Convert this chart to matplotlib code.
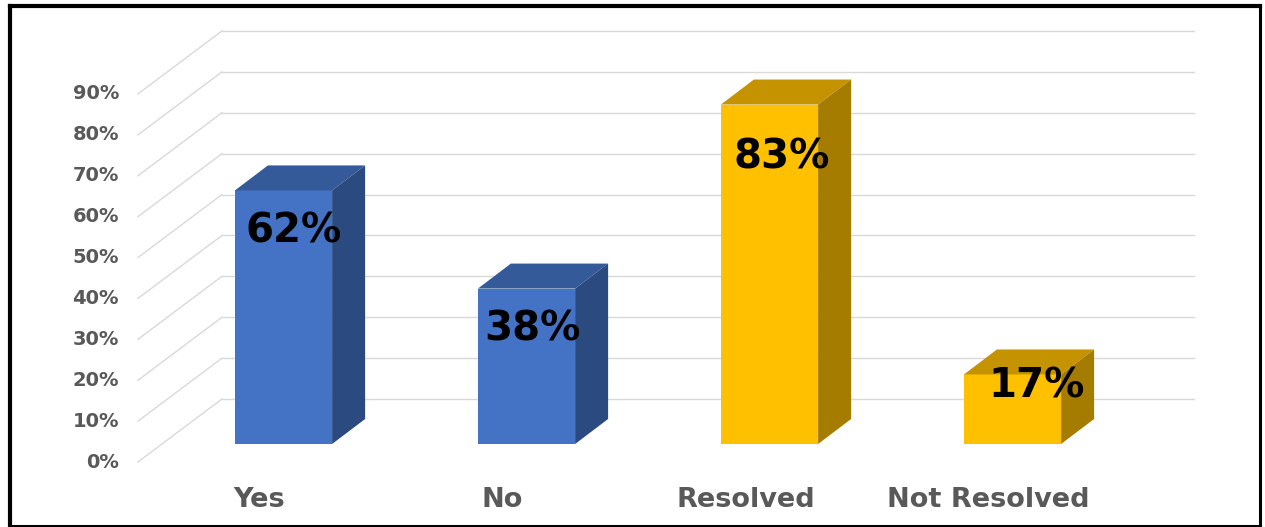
import matplotlib
matplotlib.use("Agg")
import matplotlib.pyplot as plt
from matplotlib.patches import Polygon, Rectangle

# data
categories = ["Yes", "No", "Resolved", "Not Resolved"]
values = [62, 38, 83, 17]
labels = ["62%", "38%", "83%", "17%"]
ticks = [0, 10, 20, 30, 40, 50, 60, 70, 80, 90]

# styling
front_cols = ["#4472C4", "#4472C4", "#FFC000", "#FFC000"]
top_cols = ["#345A9A", "#345A9A", "#C59300", "#C59300"]
side_cols = ["#2B4A80", "#2B4A80", "#A57C00", "#A57C00"]
lab_dx_px = [10, 6, 12, 24]
lab_drop = [10, 10, 13, 3]

PX_X = 243.0   # px per category
PX_Y = 4.09    # px per percent
X0, Y0 = 283.5, 444.0   # pixel of first bar centre / zero on bar plane

def dx(px):
    return px / PX_X

def dy(px):
    return px / PX_Y

fig = plt.figure(figsize=(12.65, 5.27), dpi=100)
L, R, T, B = 10, 1260, 6, 526
ax = fig.add_axes([L / 1265, 1 - B / 527, (R - L) / 1265, (B - T) / 527])
ax.set_xlim((L - X0) / PX_X, (R - X0) / PX_X)
ax.set_ylim((Y0 - B) / PX_Y, (Y0 - T) / PX_Y)
ax.set_xticks([])
ax.set_yticks([])
for name, s in ax.spines.items():
    s.set_color("black")
    s.set_linewidth(3 if name in ("left", "top") else 2.2)

grid_c = "#D9D9D9"
wall_l, wall_r = -0.5, 3.5
front = (-dx(24), -dy(18))
back = (dx(60), dy(45))

# walls: back horizontal lines + side diagonals
for t in ticks:
    ax.plot([wall_l + back[0], wall_r + back[0]], [t + back[1], t + back[1]],
            color=grid_c, lw=1, zorder=1)
    ax.plot([wall_l + front[0], wall_l + back[0]], [t + front[1], t + back[1]],
            color=grid_c, lw=1, zorder=1)
    ax.text(wall_l + front[0] - dx(19), t + front[1], f"{t}%", ha="right", va="center",
            fontsize=14, fontweight="bold", color="#595959")

# bars
w = 0.4
bd = (dx(33), dy(25))
for i, v in enumerate(values):
    xl, xr = i - w / 2, i + w / 2
    ax.add_patch(Rectangle((xl, 0), w, v, facecolor=front_cols[i], edgecolor="none", zorder=3))
    ax.add_patch(Polygon([(xl, v), (xr, v), (xr + bd[0], v + bd[1]), (xl + bd[0], v + bd[1])],
                         closed=True, facecolor=top_cols[i], edgecolor="none", zorder=3))
    ax.add_patch(Polygon([(xr, 0), (xr + bd[0], bd[1]), (xr + bd[0], v + bd[1]), (xr, v)],
                         closed=True, facecolor=side_cols[i], edgecolor="none", zorder=3))
    ax.text(i + dx(lab_dx_px[i]), v - lab_drop[i], labels[i], ha="center", va="center",
            fontsize=29, fontweight="bold", color="black", zorder=5)
    ax.text(i + front[0], dy(444 - 500), categories[i], ha="center", va="center",
            fontsize=19.5, fontweight="bold", color="#595959")

fig.savefig("out.png", dpi=100)
